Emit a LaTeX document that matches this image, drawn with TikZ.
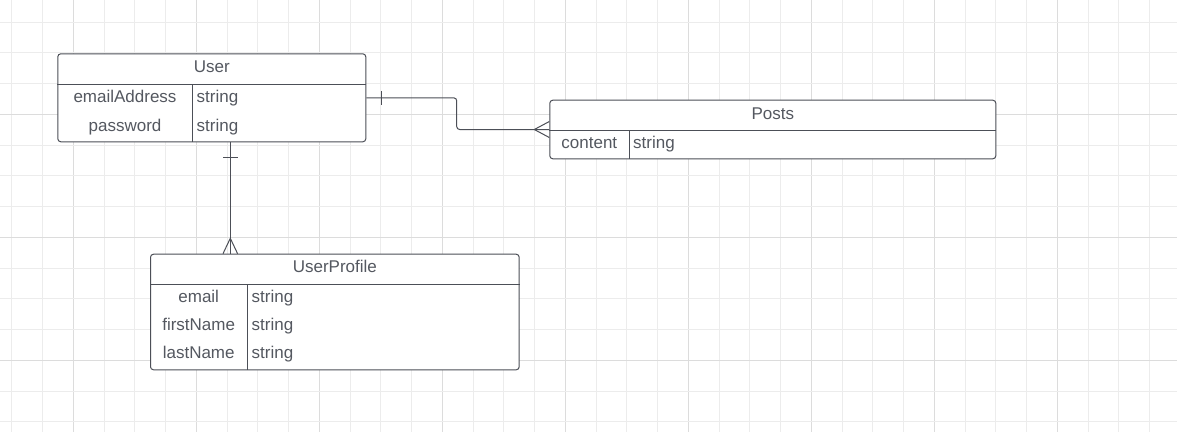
\documentclass[tikz,border=0pt]{standalone}
\usepackage{fontspec}
\setmainfont{Liberation Sans}
\usepackage{xcolor}
\usetikzlibrary{calc, positioning}
\definecolor{linegray}{RGB}{76,79,87}
\definecolor{textgray}{RGB}{84,88,96}
\definecolor{gridminor}{RGB}{236,236,236}
\definecolor{gridmajor}{RGB}{220,220,220}
\tikzset{
    entity/.style={rectangle, rounded corners=3pt, draw=linegray, line width=1pt,
        fill=white, inner sep=0pt, anchor=north west},
    fieldname/.style={text=textgray, font=\fontsize{17}{20}\selectfont, inner sep=0pt,
        text height=12pt, text depth=0pt},
    fieldtype/.style={fieldname, anchor=west},
    rule/.style={draw=linegray, line width=1pt},
    relation/.style={draw=linegray, line width=1pt},
    minorline/.style={draw=gridminor, line width=0.9pt},
    majorline/.style={draw=gridmajor, line width=1.1pt},
}

\begin{document}
\begin{tikzpicture}[x=1pt, y=-1pt]
    \useasboundingbox[fill=white] (0,0) rectangle (1177,432);
    % background grid
    \foreach \i in {0,...,37} {
        \pgfmathsetmacro{\gx}{11.8+\i*30.75}
        \pgfmathtruncatemacro{\ismajor}{mod(\i,4)==2}
        \ifnum\ismajor=1 \draw[majorline] (\gx,0) -- (\gx,432);
        \else \draw[minorline] (\gx,0) -- (\gx,432); \fi
    }
    \foreach \j in {0,...,13} {
        \pgfmathsetmacro{\gy}{22.05+\j*30.75}
        \pgfmathtruncatemacro{\ismajor}{mod(\j,4)==3}
        \ifnum\ismajor=1 \draw[majorline] (0,\gy) -- (1177,\gy);
        \else \draw[minorline] (0,\gy) -- (1177,\gy); \fi
    }

    % entities
    \node[entity, minimum width=308pt, minimum height=88pt] (user) at (57.3,53.3) {};
    \node[entity, minimum width=446pt, minimum height=58.6pt] (posts) at (549.3,99.7) {};
    \node[entity, minimum width=368.7pt, minimum height=115.6pt] (profile) at (150,253.7) {};

    % User
    \node[fieldname] (user-title) at (user.north |- 0,66.7) {User};
    \draw[rule] (user.west |- 0,84.3) -- (user.east |- 0,84.3);
    \draw[rule] (192.7,84.3) -- (192.7,0 |- user.south);
    \node[fieldname] (user-email) at (125,96.7) {emailAddress};
    \node[fieldname] (user-pass) at (125,125) {password};
    \node[fieldtype] (user-email-t) at (196.5,96.7) {string};
    \node[fieldtype] (user-pass-t) at (196.5,125) {string};

    % Posts
    \node[fieldname] (posts-title) at (posts.north |- 0,113.3) {Posts};
    \draw[rule] (posts.west |- 0,130.3) -- (posts.east |- 0,130.3);
    \draw[rule] (629.3,130.3) -- (629.3,0 |- posts.south);
    \node[fieldname] (posts-content) at (589.3,142.7) {content};
    \node[fieldtype] (posts-content-t) at (633,142.7) {string};

    % UserProfile
    \node[fieldname] (profile-title) at (profile.north |- 0,266.7) {UserProfile};
    \draw[rule] (profile.west |- 0,284.3) -- (profile.east |- 0,284.3);
    \draw[rule] (247.3,284.3) -- (247.3,0 |- profile.south);
    \node[fieldname] (profile-email) at (198.7,296) {email};
    \node[fieldname] (profile-first) at (198.7,324.3) {firstName};
    \node[fieldname] (profile-last) at (198.7,352.3) {lastName};
    \node[fieldtype] (profile-email-t) at (251.5,296) {string};
    \node[fieldtype] (profile-first-t) at (251.5,324.3) {string};
    \node[fieldtype] (profile-last-t) at (251.5,352.3) {string};

    % User -- Posts
    \draw[relation, rounded corners=3pt] (user.east) -- (456.7,0 |- user.east)
        -- (456.7,0 |- posts.west) -- (posts.west);
    \draw[relation] ([xshift=15.5pt,yshift=7pt]user.east) -- ([xshift=15.5pt,yshift=-7pt]user.east);
    \draw[relation] ([yshift=8pt]posts.west) -- ([xshift=-15pt]posts.west) -- ([yshift=-8pt]posts.west);

    % User -- UserProfile
    \draw[relation] (user.south -| 230.3,0) -- (profile.north -| 230.3,0);
    \draw[relation] ($(user.south -| 230.3,0)+(-7.3,15)$) -- ($(user.south -| 230.3,0)+(7.3,15)$);
    \draw[relation] ($(profile.north -| 230.3,0)+(-7.3,0)$) -- ($(profile.north -| 230.3,0)+(0,-15.4)$)
        -- ($(profile.north -| 230.3,0)+(7.3,0)$);
\end{tikzpicture}
\end{document}
